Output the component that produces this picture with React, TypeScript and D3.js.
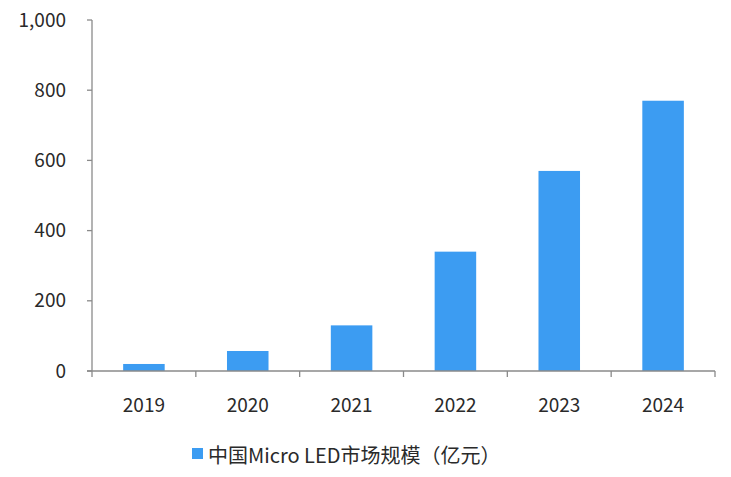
import React from "react";
import * as d3 from "d3";

const categories = ["2019", "2020", "2021", "2022", "2023", "2024"];
const values = [20, 57, 130, 340, 570, 770];
const yTicks = [0, 200, 400, 600, 800, 1000];
const seriesName = "中国Micro LED市场规模（亿元）";

export default function App() {
  const W = 731, H = 477;
  const left = 92, right = 715, top = 20, bottom = 371;
  const x = d3.scaleBand<string>().domain(categories).range([left, right]).paddingInner(0.6).paddingOuter(0.3);
  const y = d3.scaleLinear().domain([0, 1000]).range([bottom, top]);
  const band = (right - left) / categories.length;
  const fmt = d3.format(",");
  const font = "'Noto Sans CJK SC', 'Noto Sans', sans-serif";
  const color = "#3C9CF2";
  const axisColor = "#8a8a8a";
  const textColor = "#2a2a2a";
  return (
    <svg width={W} height={H} style={{ position: "absolute", left: 0, top: 0, background: "#fff" }} fontFamily={font}>
      {values.map((v, i) => (
        <rect key={i} x={x(categories[i])} y={y(v)} width={x.bandwidth()} height={y(0) - y(v)} fill={color} />
      ))}
      <line x1={left} x2={left} y1={top} y2={bottom} stroke={axisColor} strokeWidth={1.3} />
      <line x1={left - 5} x2={right} y1={bottom} y2={bottom} stroke={axisColor} strokeWidth={1.3} />
      {yTicks.map((t) => (
        <g key={t}>
          <line x1={left - 5} x2={left} y1={y(t)} y2={y(t)} stroke={axisColor} strokeWidth={1.3} />
          <text x={66} y={y(t)} dy="0.35em" textAnchor="end" fontSize={19} fill={textColor}>{fmt(t)}</text>
        </g>
      ))}
      {d3.range(categories.length + 1).map((i) => (
        <line key={i} x1={left + i * band} x2={left + i * band} y1={bottom} y2={bottom + 6} stroke={axisColor} strokeWidth={1.3} />
      ))}
      {categories.map((c) => (
        <text key={c} x={(x(c) as number) + x.bandwidth() / 2} y={412} textAnchor="middle" fontSize={19} fill={textColor}>{c}</text>
      ))}
      <rect x={192} y={448} width={11} height={11} fill={color} />
      <text x={208} y={463} fontSize={20} fill={textColor}>{seriesName}</text>
    </svg>
  );
}
